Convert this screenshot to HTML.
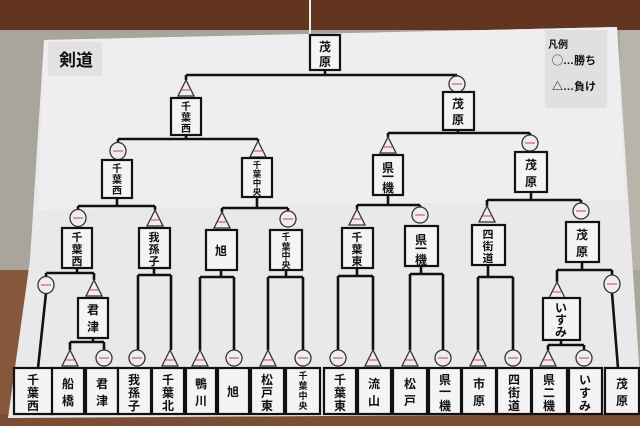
<!DOCTYPE html>
<html><head><meta charset="utf-8">
<style>
html,body{margin:0;padding:0;background:#a9a397;}
svg{display:block;}
text{font-family:"Liberation Sans","Noto Sans CJK JP",sans-serif;font-weight:bold;fill:#111;text-anchor:middle;}
.b{fill:#f4f4f4;stroke:#111;stroke-width:2.2;}
.l{stroke:#111;stroke-width:2.6;fill:none;}
.t{fill:#eee;stroke:#333;stroke-width:1.3;}
.c{fill:#eee;stroke:#333;stroke-width:1.3;}
.r{stroke:#c44;stroke-width:1;}
</style></head><body>
<svg width="640" height="426" viewBox="0 0 640 426" xmlns="http://www.w3.org/2000/svg">
<rect x="0" y="0" width="640" height="426" fill="#aaa59a"/>
<rect x="0" y="0" width="640" height="30" fill="#633520"/>
<rect x="0" y="270" width="42" height="156" fill="#86573a"/>
<rect x="0" y="414" width="640" height="12" fill="#7a4e34"/>
<rect x="620" y="30" width="20" height="240" fill="#b9b4aa"/>
<polygon points="44,40 617,27 640,380 640,414 8,418 30,260" fill="#e9e9eb"/>
<polygon points="44,40 617,27 625,200 38,210" fill="#eeeef0"/>
<line x1="310" y1="0" x2="310" y2="35" stroke="#eee" stroke-width="2"/>
<rect x="48" y="42" width="54" height="34" fill="#e2e2e2"/>
<text x="76" y="66" font-size="17" font-family="Liberation Serif,'Noto Serif CJK SC',serif">剣道</text>
<rect x="545" y="30" width="62" height="78" fill="#e0e0e0"/>
<text x="558" y="48" font-size="10">凡例</text>
<text x="574" y="64" font-size="11">◯…勝ち</text>
<text x="574" y="90" font-size="11">△…負け</text>

<path class="l" d="M325 70V75 M186 75H457 M186 75V80 M457 75V76
M186 135V139 M118 139H258 M118 139V143 M258 139V141
M458 130V133 M388 133H530 M388 133V137 M530 133V135
M117 198V206 M78 206H155 M78 206V210 M155 206V210
M257 197V208 M222 208H288 M222 208V212 M288 208V211
M388 195V205 M357 205H420 M357 205V209 M420 205V207
M531 192V200 M487 200H581 M487 200V206 M581 200V203
M77 268V273 M46 273H94 M46 273V277 M94 273V280 M46 293L38 368
M93 338V342 M70 342H104 M70 342V350 M104 342V350
M154 268V275 M138 275H171 M138 275V350 M171 275V350
M221 270V277 M200 277H234 M200 277V350 M234 277V350
M286 270V277 M268 277H303 M268 277V350 M303 277V350
M357 268V276 M338 276H373 M338 276V350 M373 276V350
M421 266V274 M410 274H443 M410 274V350 M443 274V350
M488 265V277 M478 277H513 M478 277V350 M513 277V350
M582 262V270 M557 270H612 M557 270V282 M612 270V276 M612 293L618 368
M561 340V345 M548 345H584 M548 345V350 M584 345V350"/>

<g>
<polygon class="t" points="186,80 178,96 194,96"/><line class="r" x1="182" y1="90" x2="190" y2="90"/>
<polygon class="t" points="258,141 250,157 266,157"/><line class="r" x1="254" y1="151" x2="262" y2="151"/>
<polygon class="t" points="388,137 380,153 396,153"/><line class="r" x1="384" y1="147" x2="392" y2="147"/>
<polygon class="t" points="155,210 147,226 163,226"/><line class="r" x1="151" y1="220" x2="159" y2="220"/>
<polygon class="t" points="222,212 214,228 230,228"/><line class="r" x1="218" y1="222" x2="226" y2="222"/>
<polygon class="t" points="357,209 349,225 365,225"/><line class="r" x1="353" y1="219" x2="361" y2="219"/>
<polygon class="t" points="487,206 479,222 495,222"/><line class="r" x1="483" y1="216" x2="491" y2="216"/>
<polygon class="t" points="94,280 86,296 102,296"/><line class="r" x1="90" y1="290" x2="98" y2="290"/>
<polygon class="t" points="557,282 549,298 565,298"/><line class="r" x1="553" y1="292" x2="561" y2="292"/>
</g>
<g>
<ellipse class="c" cx="457" cy="84" rx="8" ry="8"/><line class="r" x1="452" y1="84" x2="462" y2="84"/>
<ellipse class="c" cx="118" cy="151" rx="8" ry="8.5"/><line class="r" x1="113" y1="151" x2="123" y2="151"/>
<ellipse class="c" cx="530" cy="143" rx="8" ry="8"/><line class="r" x1="525" y1="143" x2="535" y2="143"/>
<ellipse class="c" cx="78" cy="218" rx="8" ry="8.5"/><line class="r" x1="73" y1="218" x2="83" y2="218"/>
<ellipse class="c" cx="288" cy="219" rx="8" ry="8"/><line class="r" x1="283" y1="219" x2="293" y2="219"/>
<ellipse class="c" cx="420" cy="215" rx="8" ry="8"/><line class="r" x1="415" y1="215" x2="425" y2="215"/>
<ellipse class="c" cx="581" cy="211" rx="8" ry="8"/><line class="r" x1="576" y1="211" x2="586" y2="211"/>
<ellipse class="c" cx="46" cy="285" rx="8" ry="8.5"/><line class="r" x1="41" y1="285" x2="51" y2="285"/>
<ellipse class="c" cx="612" cy="284" rx="8" ry="9"/><line class="r" x1="607" y1="284" x2="617" y2="284"/>
</g>
<g>
<polygon class="t" points="70,350 62,366 78,366"/><line class="r" x1="66" y1="360" x2="74" y2="360"/>
<ellipse class="c" cx="104" cy="358" rx="8" ry="8"/><line class="r" x1="99" y1="358" x2="109" y2="358"/>
<ellipse class="c" cx="137" cy="358" rx="8" ry="8"/><line class="r" x1="132" y1="358" x2="142" y2="358"/>
<polygon class="t" points="170,350 162,366 178,366"/><line class="r" x1="166" y1="360" x2="174" y2="360"/>
<polygon class="t" points="200,350 192,366 208,366"/><line class="r" x1="196" y1="360" x2="204" y2="360"/>
<ellipse class="c" cx="234" cy="358" rx="8" ry="8"/><line class="r" x1="229" y1="358" x2="239" y2="358"/>
<polygon class="t" points="268,350 260,366 276,366"/><line class="r" x1="264" y1="360" x2="272" y2="360"/>
<ellipse class="c" cx="303" cy="358" rx="8" ry="8"/><line class="r" x1="298" y1="358" x2="308" y2="358"/>
<ellipse class="c" cx="338" cy="358" rx="8" ry="8"/><line class="r" x1="333" y1="358" x2="343" y2="358"/>
<polygon class="t" points="373,350 365,366 381,366"/><line class="r" x1="369" y1="360" x2="377" y2="360"/>
<polygon class="t" points="410,350 402,366 418,366"/><line class="r" x1="406" y1="360" x2="414" y2="360"/>
<ellipse class="c" cx="443" cy="358" rx="8" ry="8"/><line class="r" x1="438" y1="358" x2="448" y2="358"/>
<polygon class="t" points="478,350 470,366 486,366"/><line class="r" x1="474" y1="360" x2="482" y2="360"/>
<ellipse class="c" cx="513" cy="358" rx="8" ry="8"/><line class="r" x1="508" y1="358" x2="518" y2="358"/>
<polygon class="t" points="548,350 540,366 556,366"/><line class="r" x1="544" y1="360" x2="552" y2="360"/>
<ellipse class="c" cx="584" cy="358" rx="8" ry="8"/><line class="r" x1="579" y1="358" x2="589" y2="358"/>
</g>

<g font-size="12">
<rect class="b" x="310" y="35" width="30" height="35"/><text x="325" y="51">茂</text><text x="325" y="66">原</text>
<rect class="b" x="171" y="98" width="30" height="37"/><g font-size="10"><text x="186" y="110">千</text><text x="186" y="121">葉</text><text x="186" y="132">西</text></g>
<rect class="b" x="443" y="92" width="31" height="38"/><text x="458" y="108">茂</text><text x="458" y="124">原</text>
<rect class="b" x="102" y="160" width="30" height="38"/><g font-size="10"><text x="117" y="172">千</text><text x="117" y="183">葉</text><text x="117" y="194">西</text></g>
<rect class="b" x="242" y="158" width="30" height="39"/><g font-size="8.5"><text x="257" y="168">千</text><text x="257" y="177">葉</text><text x="257" y="186">中</text><text x="257" y="195">央</text></g>
<rect class="b" x="373" y="155" width="30" height="40"/><text x="388" y="172">県</text><text x="388" y="181">一</text><text x="388" y="192">機</text>
<rect class="b" x="515" y="152" width="32" height="40"/><text x="531" y="169">茂</text><text x="531" y="186">原</text>
<rect class="b" x="62" y="228" width="30" height="40"/><g font-size="11"><text x="77" y="241">千</text><text x="77" y="253">葉</text><text x="77" y="265">西</text></g>
<rect class="b" x="139" y="228" width="31" height="40"/><g font-size="11"><text x="154" y="241">我</text><text x="154" y="253">孫</text><text x="154" y="265">子</text></g>
<rect class="b" x="206" y="230" width="31" height="40"/><text x="221" y="255">旭</text>
<rect class="b" x="270" y="230" width="32" height="40"/><g font-size="9"><text x="286" y="240">千</text><text x="286" y="250">葉</text><text x="286" y="259">中</text><text x="286" y="268">央</text></g>
<rect class="b" x="342" y="228" width="31" height="40"/><g font-size="11"><text x="357" y="241">千</text><text x="357" y="253">葉</text><text x="357" y="265">東</text></g>
<rect class="b" x="405" y="226" width="33" height="40"/><text x="421" y="244">県</text><text x="421" y="253">一</text><text x="421" y="264">機</text>
<rect class="b" x="472" y="225" width="33" height="40"/><g font-size="11"><text x="488" y="238">四</text><text x="488" y="250">街</text><text x="488" y="262">道</text></g>
<rect class="b" x="566" y="222" width="33" height="40"/><text x="582" y="239">茂</text><text x="582" y="256">原</text>
<rect class="b" x="78" y="298" width="30" height="40"/><text x="93" y="314">君</text><text x="93" y="331">津</text>
<rect class="b" x="543" y="298" width="37" height="42"/><text x="561" y="312">い</text><text x="561" y="324">す</text><text x="561" y="336">み</text>
</g>
<g font-size="12">
<rect class="b" x="14" y="368" width="39" height="46"/><text x="33" y="384">千</text><text x="33" y="397">葉</text><text x="33" y="410">西</text>
<rect class="b" x="52" y="368" width="32" height="46"/><text x="68" y="388">船</text><text x="68" y="405">橋</text>
<rect class="b" x="86" y="368" width="32" height="46"/><text x="102" y="388">君</text><text x="102" y="405">津</text>
<rect class="b" x="118" y="368" width="33" height="46"/><text x="134" y="384">我</text><text x="134" y="397">孫</text><text x="134" y="410">子</text>
<rect class="b" x="152" y="368" width="32" height="46"/><text x="168" y="384">千</text><text x="168" y="397">葉</text><text x="168" y="410">北</text>
<rect class="b" x="186" y="368" width="30" height="46"/><text x="201" y="388">鴨</text><text x="201" y="405">川</text>
<rect class="b" x="218" y="368" width="31" height="46"/><text x="233" y="396">旭</text>
<rect class="b" x="251" y="368" width="33" height="46"/><text x="267" y="384">松</text><text x="267" y="397">戸</text><text x="267" y="410">東</text>
<rect class="b" x="286" y="368" width="34" height="46"/><g font-size="9"><text x="303" y="379">千</text><text x="303" y="389">葉</text><text x="303" y="399">中</text><text x="303" y="409">央</text></g>
<rect class="b" x="324" y="368" width="32" height="46"/><text x="340" y="384">千</text><text x="340" y="397">葉</text><text x="340" y="410">東</text>
<rect class="b" x="358" y="368" width="33" height="46"/><text x="374" y="388">流</text><text x="374" y="405">山</text>
<rect class="b" x="393" y="368" width="34" height="46"/><text x="410" y="388">松</text><text x="410" y="405">戸</text>
<rect class="b" x="429" y="368" width="32" height="46"/><text x="445" y="384">県</text><text x="445" y="396">一</text><text x="445" y="410">機</text>
<rect class="b" x="462" y="368" width="34" height="46"/><text x="479" y="388">市</text><text x="479" y="405">原</text>
<rect class="b" x="497" y="368" width="34" height="46"/><text x="514" y="384">四</text><text x="514" y="397">街</text><text x="514" y="410">道</text>
<rect class="b" x="532" y="368" width="35" height="46"/><text x="549" y="384">県</text><text x="549" y="397">二</text><text x="549" y="410">機</text>
<rect class="b" x="569" y="368" width="33" height="46"/><text x="585" y="384">い</text><text x="585" y="397">す</text><text x="585" y="410">み</text>
<rect class="b" x="605" y="368" width="34" height="46"/><text x="622" y="388">茂</text><text x="622" y="405">原</text>
</g>
</svg>
</body></html>
